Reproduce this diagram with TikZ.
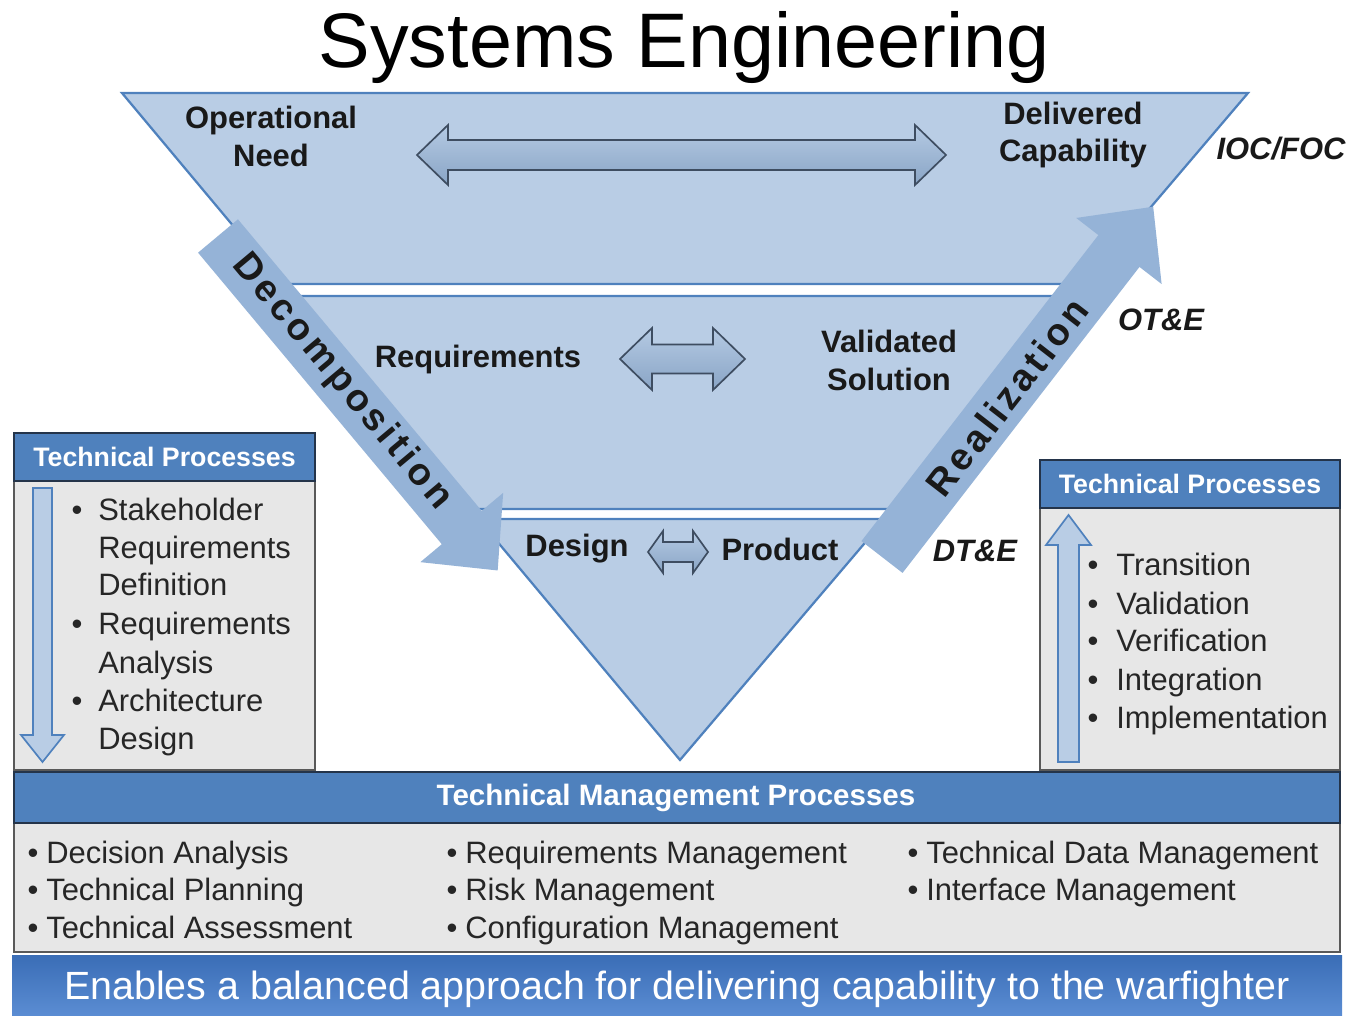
\documentclass[tikz,border=0pt]{standalone}
\usepackage{fontspec}
\setmainfont{Liberation Sans}
\newfontfamily\spacedfont[LetterSpace=10]{Liberation Sans}
\usetikzlibrary{calc}

\definecolor{triblue}{HTML}{B9CDE5}
\definecolor{triedge}{HTML}{4F81BD}
\definecolor{arrblue}{HTML}{95B3D7}
\definecolor{arredge}{HTML}{3E4D61}
\definecolor{hdrblue}{HTML}{4F81BD}
\definecolor{hdredge}{HTML}{24344A}
\definecolor{boxgray}{HTML}{E7E7E7}
\definecolor{bandtop}{HTML}{3A6DB6}
\definecolor{bandbot}{HTML}{5B8DD3}

% two-headed outline arrow: x1, x2, y, shaft half, head half, head length
\newcommand{\twoway}[6]{%
  \draw[dblarrow] (#1,#3) -- (#1+#6,#3-#5) -- (#1+#6,#3-#4) -- (#2-#6,#3-#4)
    -- (#2-#6,#3-#5) -- (#2,#3) -- (#2-#6,#3+#5) -- (#2-#6,#3+#4)
    -- (#1+#6,#3+#4) -- (#1+#6,#3+#5) -- cycle;}

\begin{document}
\begin{tikzpicture}[x=0.025cm, y=-0.025cm]


 \tikzset{
    band/.style={fill=triblue, draw=triedge, line width=1.6pt, line join=miter},
    bigarrow/.style={fill=arrblue},
    dblarrow/.style={top color=arrblue!70!white, bottom color=arrblue!92!black,
      draw=arredge, line width=1.2pt},
    thinarrow/.style={fill=triblue, draw=triedge, line width=1.2pt},
    hdr/.style={fill=hdrblue, draw=hdredge, line width=1.2pt},
    body/.style={fill=boxgray, draw=black!65, line width=0.8pt},
    lbl/.style={font=\fontsize{22}{27}\selectfont\bfseries, align=center, text=black!90},
    tag/.style={font=\fontsize{22}{27}\selectfont\bfseries\itshape, text=black!90},
    hdrtext/.style={font=\fontsize{19}{23}\selectfont\bfseries, text=white},
    item/.style={font=\fontsize{22}{27}\selectfont, text=black!85, anchor=base west, inner sep=0pt},
    dot/.style={font=\fontsize{22}{27}\selectfont, text=black!85, anchor=base, inner sep=0pt},
    along/.style={font=\spacedfont\fontsize{27}{32}\selectfont\bfseries, text=black!90, inner sep=0pt}
  }

\useasboundingbox (0,0) rectangle (1349,1016);

\node[font=\fontsize{55}{60}\selectfont] (title) at (684,48) {Systems Engineering};

% triangle in three bands
\coordinate (tl) at (122,93);
\coordinate (tr) at (1248,93);
\coordinate (ap) at (680,760);

\draw[band] (tl) -- (tr) -- ($(tr)!0.2864!(ap)$) -- ($(tl)!0.2864!(ap)$) -- cycle;
\draw[band] ($(tl)!0.3043!(ap)$) -- ($(tr)!0.3043!(ap)$) -- ($(tr)!0.6237!(ap)$) -- ($(tl)!0.6237!(ap)$) -- cycle;
\draw[band] ($(tl)!0.6387!(ap)$) -- ($(tr)!0.6387!(ap)$) -- (ap) -- cycle;

% decomposition / realization
\begin{scope}[shift={(218,236)}, rotate=-50.1]
  \fill[bigarrow] (0,-26) -- (380,-26) -- (380,-54) -- (436,0) -- (380,54) -- (380,26) -- (0,26) -- cycle;
\end{scope}
\begin{scope}[shift={(882,557)}, rotate=52.25]
  \fill[bigarrow] (0,-26) -- (387,-26) -- (387,-54) -- (443,0) -- (387,54) -- (387,26) -- (0,26) -- cycle;
\end{scope}

\node[along, rotate=-50.1] (decomp) at (342,382) {Decomposition};
\node[along, rotate=52.25] (realiz) at (1007,397) {Realization};

\twoway{417}{946}{155}{15}{30}{31}
\twoway{620}{745}{359}{14.5}{31}{32}
\twoway{648}{708}{552}{10}{21}{15}

\node[lbl] (opneed) at (271,136) {Operational\\Need};
\node[lbl] (delcap) at (1073,135) {Delivered\\Capability};
\node[lbl] (req) at (478,360) {Requirements};
\node[lbl] (valsol) at (889,360) {Validated\\Solution};
\node[lbl] (design) at (577,549) {Design};
\node[lbl] (product) at (780,549) {Product};
\node[tag] (ioc) at (1281,149) {IOC/FOC};
\node[tag] (ote) at (1161,320) {OT\&E};
\node[tag] (dte) at (975,551) {DT\&E};

% left technical processes
\draw[body] (14,481) rectangle (315,770);
\draw[hdr] (14,433) rectangle (315,481);
\node[hdrtext] (lhdr) at (164.5,457) {Technical Processes};
\draw[thinarrow] (33,488) -- (52,488) -- (52,735) -- (64,735) -- (42.5,762) -- (21,735) -- (33,735) -- cycle;

\foreach \y/\t in {510/Stakeholder, 548/Requirements, 585/Definition, 624/Requirements,
                   662/Analysis, 700/Architecture, 738/Design}
  \node[item] (tp\y) at (98,\y+11) {\t};
\foreach \y in {510,624,700}
  \node[dot] (tpd\y) at (77,\y+11) {\textbullet};

% right technical processes
\draw[body] (1040,508) rectangle (1340,770);
\draw[hdr] (1040,460) rectangle (1340,508);
\node[hdrtext] (rhdr) at (1190,484) {Technical Processes};
\draw[thinarrow] (1058,762) -- (1079,762) -- (1079,545) -- (1091,545) -- (1068.5,515) -- (1046,545) -- (1058,545) -- cycle;

\foreach \y/\t in {565/Transition, 603/Validation, 641/Verification, 679/Integration, 717/Implementation} {
  \node[item] (rp\y) at (1116,\y+11) {\t};
  \node[dot] (rpd\y) at (1093,\y+11) {\textbullet};
}

% technical management processes
\draw[body] (14,823) rectangle (1340,952);
\draw[hdr] (14,772) rectangle (1340,823);
\node[hdrtext, font=\fontsize{21}{25}\selectfont\bfseries] (tmp) at (676,798) {Technical Management Processes};

\foreach \x/\y/\t [count=\i] in {46/852/Decision Analysis, 46/889/Technical Planning, 46/927/Technical Assessment,
    465/852/Requirements Management, 465/889/Risk Management, 465/927/Configuration Management,
    926/852/Technical Data Management, 926/889/Interface Management} {
  \node[item] (tm\i) at (\x,\y+11) {\t};
  \node[dot] (tmd\i) at (\x-13,\y+11) {\textbullet};
}

% banner
\shade[top color=bandtop, bottom color=bandbot] (12,955) rectangle (1342,1016);
\node[font=\fontsize{28}{32}\selectfont, text=white] (enable) at (677,989)
  {Enables a balanced approach for delivering capability to the warfighter};

\end{tikzpicture}
\end{document}
